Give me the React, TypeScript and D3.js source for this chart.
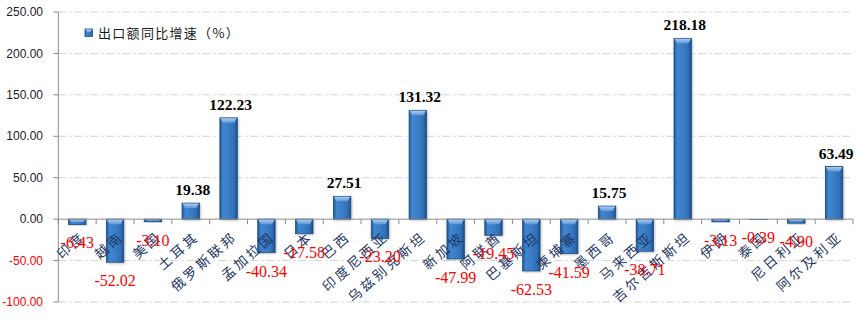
import React from 'react';
import * as d3 from 'd3';

const categories = ['印度', '越南', '美国', '土耳其', '俄罗斯联邦', '孟加拉国', '日本', '巴西', '印度尼西亚', '乌兹别克斯坦', '新加坡', '阿联酋', '巴基斯坦', '柬埔寨', '墨西哥', '马来西亚', '吉尔吉斯斯坦', '伊朗', '泰国', '尼日利亚', '阿尔及利亚'];
const growth = [-6.43, -52.02, -3.10, 19.38, 122.23, -40.34, -17.58, 27.51, -23.20, 131.32, -47.99, -19.45, -62.53, -41.59, 15.75, -38.71, 218.18, -3.13, -0.39, -4.90, 63.49];
const yTicks = [-100, -50, 0, 50, 100, 150, 200, 250];
const legendLabel = '出口额同比增速（%）';

const W = 856;
const H = 320;
const left = 58.3;
const right = 853;
const top = 12;
const bottom = 302;

export default function App() {
  const x = d3.scaleBand<string>().domain(categories).range([left, right]).paddingInner(0.54).paddingOuter(0.27);
  const y = d3.scaleLinear().domain([-100, 250]).range([bottom, top]);
  const step = x.step();
  const bw = x.bandwidth();
  const y0 = y(0);
  const boundaries = d3.range(categories.length + 1).map((i) => left + i * step);
  const theta = 41;
  const charStep = 16.4;

  return (
    <svg width={W} height={H} style={{ position: 'absolute', left: 0, top: 0, background: '#fff' }}>
      <defs>
        <linearGradient id="barG" x1="0" y1="0" x2="1" y2="0">
          <stop offset="0%" stopColor="#1d5796" />
          <stop offset="18%" stopColor="#4186cf" />
          <stop offset="50%" stopColor="#3b7ec8" />
          <stop offset="82%" stopColor="#306fb6" />
          <stop offset="100%" stopColor="#1b4d85" />
        </linearGradient>
        <linearGradient id="bevelG" x1="0" y1="0" x2="0" y2="1">
          <stop offset="0%" stopColor="#a9cdf2" />
          <stop offset="100%" stopColor="#5e98d8" />
        </linearGradient>
        <filter id="shadow" x="-20%" y="-20%" width="140%" height="140%">
          <feDropShadow dx="1" dy="1" stdDeviation="1" floodColor="#000" floodOpacity="0.25" />
        </filter>
      </defs>

      {yTicks.filter((t) => t !== 0).map((t) => (
        <line key={'g' + t} x1={left} x2={right} y1={y(t)} y2={y(t)} stroke="#d3d3d3" strokeWidth={1} strokeDasharray="8,3,2,3" />
      ))}

      {yTicks.map((t) => (
        <g key={'t' + t}>
          <line x1={left - 5} x2={left} y1={y(t)} y2={y(t)} stroke="#8c8c8c" />
          <text x={43} y={y(t)} dy="0.35em" textAnchor="end" fontFamily="Liberation Sans, Arial, sans-serif" fontSize={12} fill={t < 0 ? '#ff0000' : '#1a1a2e'}>
            {t.toFixed(2)}
          </text>
        </g>
      ))}

      {categories.map((c, i) => {
        const v = growth[i];
        const bx = x(c) as number;
        const yt = Math.min(y(v), y0);
        const h = Math.abs(y(v) - y0);
        const bh = Math.min(5, h * 0.6);
        return (
          <g key={'b' + c} filter="url(#shadow)">
            <rect x={bx} y={yt} width={bw} height={Math.max(h, 0.5)} fill="url(#barG)" stroke="#1f4e80" strokeWidth={0.8} />
            <polygon
              points={`${bx + 0.6},${yt + 0.4} ${bx + bw - 0.6},${yt + 0.4} ${bx + bw - 3},${yt + bh} ${bx + 3},${yt + bh}`}
              fill="url(#bevelG)"
            />
          </g>
        );
      })}

      <line x1={left} x2={left} y1={top} y2={bottom} stroke="#8c8c8c" />
      <line x1={left} x2={right} y1={y0} y2={y0} stroke="#8c8c8c" />
      {boundaries.map((bxx, i) => (
        <line key={'xt' + i} x1={bxx} x2={bxx} y1={y0} y2={y0 + 5} stroke="#8c8c8c" />
      ))}

      {categories.map((c) => {
        const cx = (x(c) as number) + bw / 2;
        const chars = Array.from(c);
        const n = chars.length;
        const lx = cx - 1;
        const ly = 241;
        return (
          <g key={'l' + c} transform={`translate(${lx},${ly}) rotate(${-theta})`}>
            {chars.map((ch, k) => (
              <text
                key={k}
                x={(k - (n - 1)) * charStep}
                y={0}
                textAnchor="middle"
                dy="0.36em"
                fontFamily="Noto Sans CJK SC, sans-serif"
                fontSize={13.5}
                fill="#1f3864"
              >
                {ch}
              </text>
            ))}
          </g>
        );
      })}

      {categories.map((c, i) => {
        const v = growth[i];
        const cx = (x(c) as number) + bw / 2;
        if (v >= 0) {
          return (
            <text key={'d' + c} x={cx + 2} y={y(v) - 8} textAnchor="middle" fontFamily="Liberation Serif, Times New Roman, serif" fontWeight="bold" fontSize={15.5} fill="#000">
              {v.toFixed(2)}
            </text>
          );
        }
        return (
          <text key={'d' + c} x={cx} y={y(v) + 24} textAnchor="middle" fontFamily="Liberation Serif, Times New Roman, serif" fontSize={16} fill="#ff0000">
            {v.toFixed(2)}
          </text>
        );
      })}

      <rect x={85} y={29} width={7.5} height={7.5} fill="url(#barG)" stroke="#1f4e80" strokeWidth={0.8} />
      <polygon points="85.5,29.5 92,29.5 90.5,31.5 87,31.5" fill="#a9cdf2" />
      <text x={98} y={33} dy="0.36em" fontFamily="Noto Sans CJK SC, sans-serif" fontSize={13} letterSpacing={1.3} fill="#1a1a1a">
        {legendLabel}
      </text>
    </svg>
  );
}
